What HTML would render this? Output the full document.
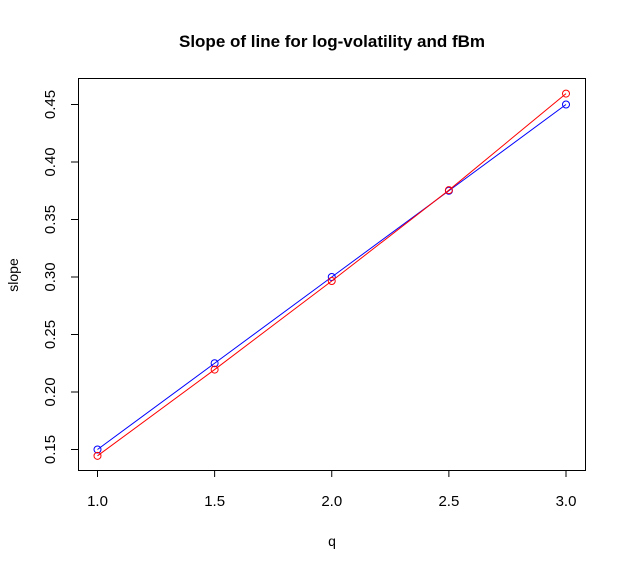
<!DOCTYPE html>
<html><head><style>body{margin:0;background:#fff}svg{display:block}text{font-family:"Liberation Sans",Arial,sans-serif}</style></head>
<body>
<svg id="c" width="626" height="568">
<text x="332" y="47" text-anchor="middle" font-size="17" font-weight="bold">Slope of line for log-volatility and fBm</text>
<rect x="78.5" y="78.5" width="507" height="392" fill="none" stroke="#000"/>
<text x="332" y="546" text-anchor="middle" font-size="14">q</text>
<text transform="translate(18,275) rotate(-90)" text-anchor="middle" font-size="14">slope</text>
<g id="ax"></g><g id="marks"></g>
</svg>
<script>
const qs=[1.0,1.5,2.0,2.5,3.0];
const blueVals=[0.150,0.225,0.300,0.375,0.450];
const redVals=[0.1445,0.2195,0.2965,0.3755,0.4595];
const xTicks=["1.0","1.5","2.0","2.5","3.0"];
const yTicks=["0.15","0.20","0.25","0.30","0.35","0.40","0.45"];
const X=v=>97.5+(v-1)*234.25;
const Y=v=>449.5-(v-0.15)*1150;
const NS="http://www.w3.org/2000/svg";
const ax=document.getElementById('ax'),mk=document.getElementById('marks');
function el(t,a,p){const e=document.createElementNS(NS,t);for(const k in a)e.setAttribute(k,a[k]);p.appendChild(e);return e;}
xTicks.forEach(t=>{const x=X(+t);
const l=el('line',{x1:x,x2:x,y1:470.5,y2:477,stroke:'#000'},ax);


const tx=el('text',{x:x,y:506,'text-anchor':'middle','font-size':15},ax);tx.textContent=t;

});
yTicks.forEach(t=>{const y=Y(+t);
const l=el('line',{x1:71,x2:78.5,y1:y,y2:y,stroke:'#000'},ax);


const tx=el('text',{x:0,y:0,'text-anchor':'middle','font-size':15,transform:`translate(55,${y}) rotate(-90)`},ax);tx.textContent=t;

});
[[blueVals,'#00f','blue'],[redVals,'#f00','red']].forEach(([vals,c,n])=>{
const pl=el('polyline',{points:qs.map((q,i)=>X(q)+','+Y(vals[i])).join(' '),fill:'none',stroke:c,'stroke-width':1},mk);


qs.forEach((q,i)=>{const p=el('circle',{cx:X(q),cy:Y(vals[i]),r:3.5,fill:'none',stroke:c},mk);

});});
</script>
</body></html>
